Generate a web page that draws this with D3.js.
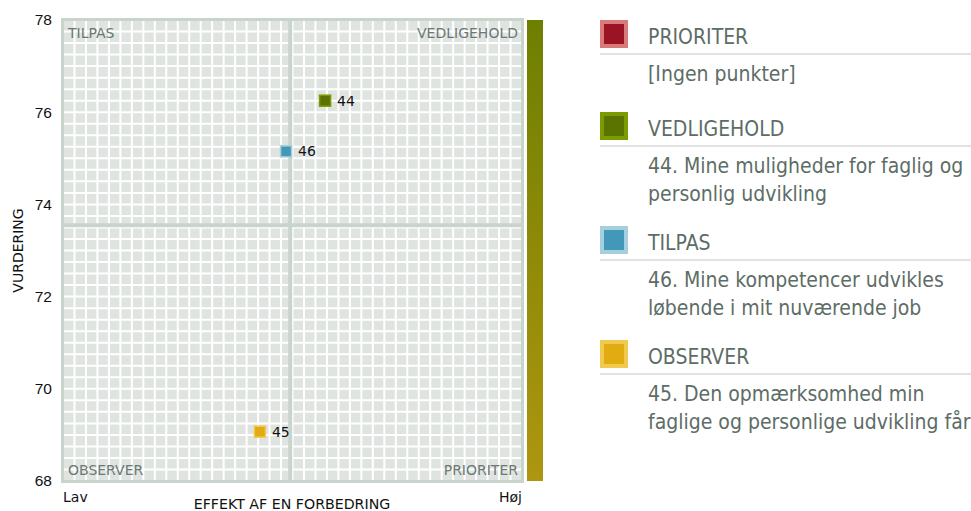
<!DOCTYPE html>
<html>
<head>
<meta charset="utf-8">
<script src="https://cdn.jsdelivr.net/npm/d3@7/dist/d3.min.js"></script>
<style>
  html, body { margin: 0; padding: 0; background: #fff; }
  svg { display: block; font-family: Tahoma, "DejaVu Sans", Verdana, sans-serif; }
  .legend-text { font-family: "DejaVu Sans Condensed", "DejaVu Sans", sans-serif; font-stretch: condensed; }
</style>
</head>
<body>
<svg id="chart" width="971" height="511"></svg>
<script>
// Quadrant data: effect of an improvement (x, 0-100) vs. rating (y)
const pointIds     = ["44", "46", "45"];
const pointEffect  = [57.1, 48.6, 42.9];
const pointRating  = [76.25, 75.15, 69.07];
const pointGroup   = ["VEDLIGEHOLD", "TILPAS", "OBSERVER"];

const yTicks       = [68, 70, 72, 74, 76, 78];
const xEndLabels   = ["Lav", "Høj"];
const effectSplit  = 49.5;
const ratingSplit  = 73.55;

const groups       = ["PRIORITER", "VEDLIGEHOLD", "TILPAS", "OBSERVER"];
const groupFill    = ["#9b1426", "#5b7300", "#4498b7", "#e1ab12"];
const groupEdge    = ["#d97a7a", "#7b9c00", "#a5cede", "#f1c94f"];
const groupLines   = [
  ["[Ingen punkter]"],
  ["44. Mine muligheder for faglig og", "personlig udvikling"],
  ["46. Mine kompetencer udvikles", "løbende i mit nuværende job"],
  ["45. Den opmærksomhed min", "faglige og personlige udvikling får"]
];
const quadrantLabels = ["TILPAS", "VEDLIGEHOLD", "OBSERVER", "PRIORITER"];

const svg = d3.select("#chart");
const plot = { left: 63, right: 522, top: 20, bottom: 481 };

const x = d3.scaleLinear().domain([0, 100]).range([plot.left, plot.right]);
const y = d3.scaleLinear().domain([68, 78]).range([plot.bottom, plot.top]);

// Plot background with fine white grid
svg.append("rect")
  .attr("x", plot.left).attr("y", plot.top)
  .attr("width", plot.right - plot.left).attr("height", plot.bottom - plot.top)
  .attr("fill", "#dfe4e1");

const cells = 40;
const gridG = svg.append("g").attr("stroke", "#ffffff").attr("stroke-width", 2);
d3.range(1, cells).forEach(i => {
  const gx = plot.left + (plot.right - plot.left) * i / cells;
  const gy = plot.top + (plot.bottom - plot.top) * i / cells;
  gridG.append("line").attr("x1", gx).attr("x2", gx).attr("y1", plot.top).attr("y2", plot.bottom);
  gridG.append("line").attr("x1", plot.left).attr("x2", plot.right).attr("y1", gy).attr("y2", gy);
});

// Quadrant dividers
svg.append("line")
  .attr("x1", x(effectSplit)).attr("x2", x(effectSplit))
  .attr("y1", plot.top).attr("y2", plot.bottom)
  .attr("stroke", "#c9d4cc").attr("stroke-width", 4);
svg.append("line")
  .attr("x1", plot.left).attr("x2", plot.right)
  .attr("y1", y(ratingSplit)).attr("y2", y(ratingSplit))
  .attr("stroke", "#c9d4cc").attr("stroke-width", 4);

// Border
svg.append("rect")
  .attr("x", plot.left - 0.5).attr("y", plot.top - 0.5)
  .attr("width", plot.right - plot.left + 1).attr("height", plot.bottom - plot.top + 1)
  .attr("fill", "none").attr("stroke", "#c9d4cc").attr("stroke-width", 3);

// Quadrant names
const qStyle = s => s.attr("font-size", 14).attr("fill", "#6b7873");
svg.append("text").text(quadrantLabels[0]).attr("x", plot.left + 5).attr("y", plot.top + 18).call(qStyle);
svg.append("text").text(quadrantLabels[1]).attr("x", plot.right - 4).attr("y", plot.top + 18).attr("text-anchor", "end").call(qStyle);
svg.append("text").text(quadrantLabels[2]).attr("x", plot.left + 5).attr("y", plot.bottom - 6).call(qStyle);
svg.append("text").text(quadrantLabels[3]).attr("x", plot.right - 4).attr("y", plot.bottom - 6).attr("text-anchor", "end").call(qStyle);

// Y axis
const yAxis = d3.axisLeft(y).tickValues(yTicks).tickSize(0).tickPadding(11);
const yG = svg.append("g").attr("transform", `translate(${plot.left},0)`).call(yAxis);
yG.select(".domain").remove();
yG.selectAll("text").attr("font-size", 15.5).attr("fill", "#111").attr("font-family", null);

svg.append("text")
  .attr("transform", `translate(23,${(plot.top + plot.bottom) / 2}) rotate(-90)`)
  .attr("text-anchor", "middle").attr("font-size", 14).attr("fill", "#111")
  .text("VURDERING");

// X axis end labels and title
svg.append("text").text(xEndLabels[0]).attr("x", x(0)).attr("y", 502).attr("font-size", 14).attr("fill", "#111");
svg.append("text").text(xEndLabels[1]).attr("x", x(100)).attr("y", 502).attr("text-anchor", "end").attr("font-size", 14).attr("fill", "#111");
svg.append("text").text("EFFEKT AF EN FORBEDRING")
  .attr("x", 292).attr("y", 509).attr("text-anchor", "middle").attr("font-size", 14.2).attr("fill", "#111");

// Gradient bar to the right of the plot
const defs = svg.append("defs");
const grad = defs.append("linearGradient").attr("id", "effectGrad")
  .attr("x1", 0).attr("y1", 0).attr("x2", 0).attr("y2", 1);
grad.append("stop").attr("offset", "0%").attr("stop-color", "#6e7f00");
grad.append("stop").attr("offset", "100%").attr("stop-color", "#ae9610");
svg.append("rect")
  .attr("x", 527).attr("y", plot.top).attr("width", 16).attr("height", plot.bottom - plot.top)
  .attr("fill", "url(#effectGrad)");

// Points
const pts = svg.append("g");
pointIds.forEach((id, i) => {
  const gi = groups.indexOf(pointGroup[i]);
  const px = x(pointEffect[i]), py = y(pointRating[i]);
  pts.append("rect")
    .attr("x", px - 5.5).attr("y", py - 5.5).attr("width", 11).attr("height", 11)
    .attr("fill", groupFill[gi]).attr("stroke", groupEdge[gi]).attr("stroke-width", 1.5);
  pts.append("text").text(id)
    .attr("x", px + 12).attr("y", py + 5)
    .attr("font-size", 14).attr("fill", "#111");
});

// Legend
const legend = svg.append("g");
let ly = 20;
groups.forEach((g, i) => {
  legend.append("rect")
    .attr("x", 602).attr("y", ly + 2).attr("width", 24).attr("height", 24)
    .attr("fill", groupFill[i]).attr("stroke", groupEdge[i]).attr("stroke-width", 4);
  legend.append("text").text(g).attr("class", "legend-text")
    .attr("x", 648).attr("y", ly + 23.5).attr("font-size", 21).attr("fill", "#5d6d66");
  legend.append("line")
    .attr("x1", 600).attr("x2", 971).attr("y1", ly + 34).attr("y2", ly + 34)
    .attr("stroke", "#e2e2e2").attr("stroke-width", 2);
  groupLines[i].forEach((t, j) => {
    legend.append("text").text(t).attr("class", "legend-text")
      .attr("x", 648).attr("y", ly + 61 + j * 28)
      .attr("font-size", 21).attr("fill", "#5d6d66");
  });
  ly += 92 + (groupLines[i].length - 1) * 22;
});
</script>
</body>
</html>
